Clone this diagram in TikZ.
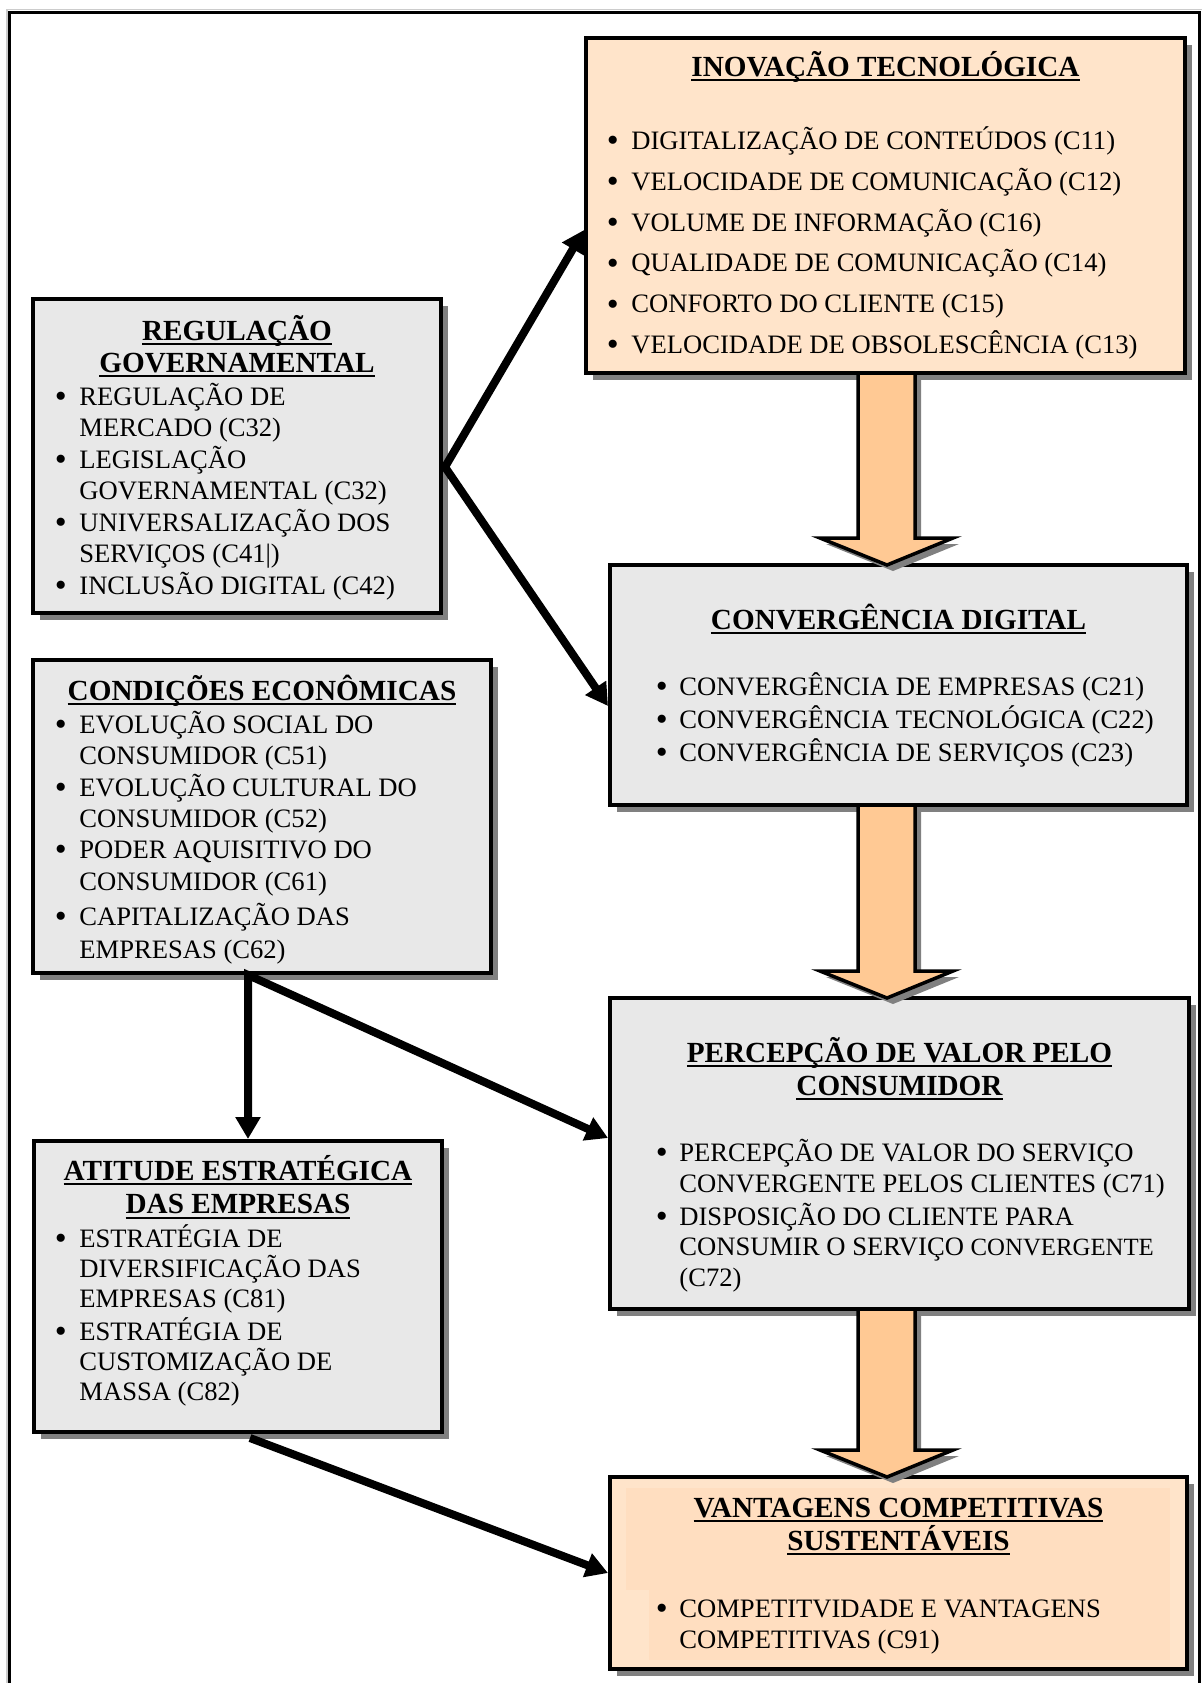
\documentclass[tikz,border=0pt]{standalone}
\usepackage{fontspec}
\setmainfont{Liberation Serif}
\usetikzlibrary{arrows.meta,calc,fit,shadows}
\definecolor{peach}{RGB}{255,228,202}
\definecolor{peachin}{RGB}{255,222,192}
\definecolor{boxgray}{RGB}{232,232,232}
\definecolor{arrorange}{RGB}{255,201,148}
\definecolor{shadowgray}{RGB}{128,128,128}
\newcommand{\myBody}{\fontsize{13.3pt}{15.8pt}\selectfont}
\newcommand{\myTitle}{\fontsize{14.6pt}{16.6pt}\selectfont\bfseries}
\newcommand{\myul}[1]{\setbox0=\hbox{#1}\rlap{\rule[-2.6pt]{\wd0}{1pt}}\box0}
\newcommand{\mytl}[4]{\node[txt] (#1) at (#2,#3) {#4};}
\newcommand{\mybl}[3]{\node[txt,xshift=-0.8pt] (#1) at (#2,#3) {\raisebox{-1.2pt}{\fontsize{17pt}{17pt}\selectfont\textbullet}};}
\newcommand{\myblockarr}[3]{%
  \begin{scope}[shift={(6,6)}]
    \fill[shadowgray] (858,#1) -- (915,#1) -- (915,#3) -- (953,#3) -- (887,#2) -- (820,#3) -- (858,#3) -- cycle;
  \end{scope}
  \filldraw[blockarrow] (858,#1) -- (915,#1) -- (915,#3) -- (953,#3) -- (887,#2) -- (820,#3) -- (858,#3) -- cycle;}
\begin{document}
\begin{tikzpicture}[x=0.5pt,y=-0.5pt,
  box/.style={draw=black,line width=2pt,inner sep=0pt,
    drop shadow={shadow xshift=3.5pt,shadow yshift=-3.5pt,fill=shadowgray,opacity=1}},
  graybox/.style={box,fill=boxgray},
  peachbox/.style={box,fill=peach},
  ttl/.style={font=\myTitle,anchor=base,inner sep=0pt},
  txt/.style={font=\myBody,anchor=base west,inner sep=0pt},
  blockarrow/.style={fill=arrorange,draw=black,line width=1.75pt,line join=miter},
  flow/.style={line width=4pt,line join=miter,-{Triangle[length=11pt,width=12pt]}},
  flowboth/.style={line width=4pt,line join=miter,{Triangle[length=11pt,width=12pt]}-{Triangle[length=11pt,width=12pt]}}]
\useasboundingbox (0,0) rectangle (1201,1683);
% outer frame
\draw[gray!40,line width=0.8pt] (7,1700) -- (7,9.5) -- (1203,9.5);
\draw[black,line width=1.5pt] (9.5,1700) -- (9.5,12) -- (1199,12) -- (1199,1700);

% ---------- boxes ----------
\node[peachbox,fit={(586,38) (1185,373)}] (inov) {};
\node[graybox,fit={(33,299) (441,613)}] (reg) {};
\node[graybox,fit={(33,660) (491,973)}] (cond) {};
\node[graybox,fit={(34,1141) (442,1432)}] (att) {};
\node[graybox,fit={(610,565) (1187,805)}] (conv) {};
\node[graybox,fit={(610,998) (1189,1309)}] (perc) {};
\node[peachbox,fit={(610,1477) (1187,1669)}] (vant) {};
\fill[peachin] (626,1488) rectangle (1170,1590);
\fill[peachin] (649,1590) rectangle (1170,1660);

% ---------- INOVACAO ----------
\node[ttl] (inovT) at (885.5,76) {\myul{INOVAÇÃO TECNOLÓGICA}};
\mybl{ib1}{608}{149.5}\mytl{it1}{631}{149.5}{DIGITALIZAÇÃO DE CONTEÚDOS (C11)}
\mybl{ib2}{608}{190.3}\mytl{it2}{631}{190.3}{VELOCIDADE DE COMUNICAÇÃO (C12)}
\mybl{ib3}{608}{231.1}\mytl{it3}{631}{231.1}{VOLUME DE INFORMAÇÃO (C16)}
\mybl{ib4}{608}{271.9}\mytl{it4}{631}{271.9}{QUALIDADE DE COMUNICAÇÃO (C14)}
\mybl{ib5}{608}{312.7}\mytl{it5}{631}{312.7}{CONFORTO DO CLIENTE (C15)}
\mybl{ib6}{608}{353.5}\mytl{it6}{631}{353.5}{VELOCIDADE DE OBSOLESCÊNCIA (C13)}

% ---------- REGULACAO ----------
\node[ttl] (regT1) at (237,340) {\myul{REGULAÇÃO}};
\node[ttl] (regT2) at (237,372) {\myul{GOVERNAMENTAL}};
\mybl{rb1}{56}{405}\mytl{rt1}{79}{405}{REGULAÇÃO DE}
\mytl{rt2}{79}{436}{MERCADO (C32)}
\mybl{rb3}{56}{468.5}\mytl{rt3}{79}{468.5}{LEGISLAÇÃO}
\mytl{rt4}{79}{499.5}{GOVERNAMENTAL (C32)}
\mybl{rb5}{56}{531}\mytl{rt5}{79}{531}{UNIVERSALIZAÇÃO DOS}
\mytl{rt6}{79}{562}{SERVIÇOS (C41|)}
\mybl{rb7}{56}{594}\mytl{rt7}{79}{594}{INCLUSÃO DIGITAL (C42)}

% ---------- CONDICOES ----------
\node[ttl] (condT) at (262,700) {\myul{CONDIÇÕES ECONÔMICAS}};
\mybl{cb1}{56}{733}\mytl{ct1}{79}{733}{EVOLUÇÃO SOCIAL DO}
\mytl{ct2}{79}{764}{CONSUMIDOR (C51)}
\mybl{cb3}{56}{796}\mytl{ct3}{79}{796}{EVOLUÇÃO CULTURAL DO}
\mytl{ct4}{79}{827}{CONSUMIDOR (C52)}
\mybl{cb5}{56}{858.5}\mytl{ct5}{79}{858.5}{PODER AQUISITIVO DO}
\mytl{ct6}{79}{890}{CONSUMIDOR (C61)}
\mybl{cb7}{56}{925}\mytl{ct7}{79}{925}{CAPITALIZAÇÃO DAS}
\mytl{ct8}{79}{958}{EMPRESAS (C62)}

% ---------- ATITUDE ----------
\node[ttl] (attT1) at (238,1180) {\myul{ATITUDE ESTRATÉGICA}};
\node[ttl] (attT2) at (238,1213.5) {\myul{DAS EMPRESAS}};
\mybl{ab1}{56}{1247}\mytl{at1}{79}{1247}{ESTRATÉGIA DE}
\mytl{at2}{79}{1277}{DIVERSIFICAÇÃO DAS}
\mytl{at3}{79}{1307.5}{EMPRESAS (C81)}
\mybl{ab4}{56}{1340}\mytl{at4}{79}{1340}{ESTRATÉGIA DE}
\mytl{at5}{79}{1370}{CUSTOMIZAÇÃO DE}
\mytl{at6}{79}{1400}{MASSA (C82)}

% ---------- CONVERGENCIA ----------
\node[ttl] (convT) at (898.5,629) {\myul{CONVERGÊNCIA DIGITAL}};
\mybl{vb1}{657}{695}\mytl{vt1}{679}{695}{CONVERGÊNCIA DE EMPRESAS (C21)}
\mybl{vb2}{657}{728}\mytl{vt2}{679}{728}{CONVERGÊNCIA TECNOLÓGICA (C22)}
\mybl{vb3}{657}{761.5}\mytl{vt3}{679}{761.5}{CONVERGÊNCIA DE SERVIÇOS (C23)}

% ---------- PERCEPCAO ----------
\node[ttl] (percT1) at (899.5,1062) {\myul{PERCEPÇÃO DE VALOR PELO}};
\node[ttl] (percT2) at (899.5,1095) {\myul{CONSUMIDOR}};
\mybl{pb1}{657}{1161}\mytl{pt1}{679}{1161}{PERCEPÇÃO DE VALOR DO SERVIÇO}
\mytl{pt2}{679}{1192}{CONVERGENTE PELOS CLIENTES (C71)}
\mybl{pb3}{657}{1225}\mytl{pt3}{679}{1225}{DISPOSIÇÃO DO CLIENTE PARA}
\mytl{pt4}{679}{1255}{CONSUMIR O SERVIÇO {\fontsize{12.4pt}{14pt}\selectfont CONVERGENTE}}
\mytl{pt5}{679}{1286}{(C72)}

% ---------- VANTAGENS ----------
\node[ttl] (vantT1) at (898.5,1517) {\myul{VANTAGENS COMPETITIVAS}};
\node[ttl] (vantT2) at (898.5,1550) {\myul{SUSTENTÁVEIS}};
\mybl{gb1}{657}{1617}\mytl{gt1}{679}{1617}{COMPETITVIDADE E VANTAGENS}
\mytl{gt2}{679}{1648}{COMPETITIVAS (C91)}

% ---------- block arrows ----------
\myblockarr{373}{565}{538}
\myblockarr{805}{998}{971}
\myblockarr{1309}{1477}{1450}

% ---------- connectors ----------
\coordinate (o1) at ($(reg.east)+(2,11)$);
\draw[flowboth] ($(inov.north west)+(0,194)$) -- (o1) -- ($(conv.north west)+(0,143)$);
\coordinate (o2) at ($(cond.south west)+(217,0)$);
\draw[flowboth] ($(att.north west)+(216,0)$) -- (o2) -- ($(perc.north west)+(0,142)$);
\coordinate (o3) at ($(att.south)+(12,4)$);
\draw[flow] (o3) -- ($(vant.north west)+(0,98)$);
\end{tikzpicture}
\end{document}
